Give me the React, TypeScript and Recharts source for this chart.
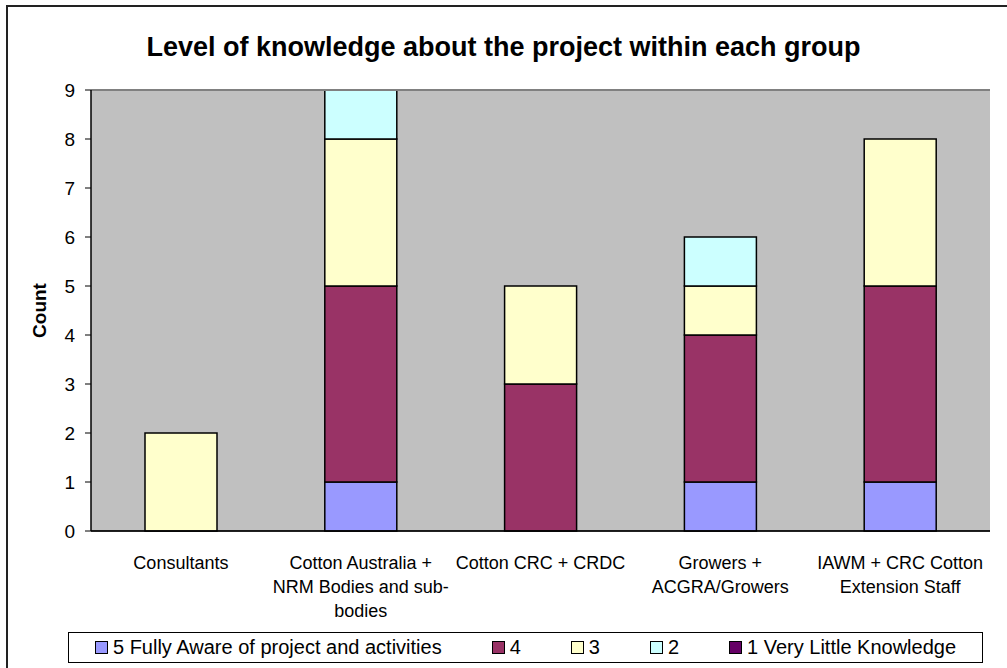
import { BarChart, Bar, XAxis, YAxis, CartesianGrid, Legend, ReferenceLine } from 'recharts'

const categories = [
  'Consultants',
  'Cotton Australia + NRM Bodies and sub-bodies',
  'Cotton CRC + CRDC',
  'Growers + ACGRA/Growers',
  'IAWM + CRC Cotton Extension Staff',
]
const tickLines = [
  ['Consultants'],
  ['Cotton Australia +', 'NRM Bodies and sub-', 'bodies'],
  ['Cotton CRC + CRDC'],
  ['Growers +', 'ACGRA/Growers'],
  ['IAWM + CRC Cotton', 'Extension Staff'],
]
const seriesNames = ['5 Fully Aware of project and activities', '4', '3', '2', '1 Very Little Knowledge']
const level5 = [0, 1, 0, 1, 1]
const level4 = [0, 4, 3, 3, 4]
const level3 = [2, 3, 2, 1, 3]
const level2 = [0, 1, 0, 1, 0]
const level1 = [0, 0, 0, 0, 0]
const yTicks = [0, 1, 2, 3, 4, 5, 6, 7, 8, 9]

const colors = ['#9999FF', '#993366', '#FFFFCC', '#CCFFFF', '#660066']
const font = 'Arial, "Liberation Sans", sans-serif'

const data = categories.map((name, i) => ({
  name,
  l5: level5[i],
  l4: level4[i],
  l3: level3[i],
  l2: level2[i],
  l1: level1[i],
}))
const keys = ['l5', 'l4', 'l3', 'l2', 'l1']

function CategoryTick(props: any) {
  const { x, y, payload } = props
  const lines = tickLines[payload.index] || [payload.value]
  return (
    <g transform={`translate(${x},${y})`}>
      {lines.map((line, i) => (
        <text
          key={i}
          x={0}
          y={30 + i * 24}
          textAnchor="middle"
          fill="#000"
          fontSize={18}
          fontFamily={font}
        >
          {line}
        </text>
      ))}
    </g>
  )
}

function LegendBox(props: any) {
  const items = [...(props.payload || [])].sort(
    (a: any, b: any) => seriesNames.indexOf(a.value) - seriesNames.indexOf(b.value),
  )
  return (
    <div
      style={{
        border: '1px solid #000',
        background: '#fff',
        height: 31,
        display: 'flex',
        alignItems: 'center',
        justifyContent: 'center',
        gap: 50,
        fontFamily: font,
        fontSize: 20,
        color: '#000',
        boxSizing: 'border-box',
      }}
    >
      {items.map((it: any) => (
        <div key={it.value} style={{ display: 'flex', alignItems: 'center', gap: 5 }}>
          <span
            style={{
              width: 11,
              height: 11,
              border: '1px solid #000',
              background: it.color,
              display: 'inline-block',
            }}
          />
          <span>{it.value}</span>
        </div>
      ))}
    </div>
  )
}

export default function App() {
  return (
    <div style={{ position: 'absolute', left: 0, top: 0, width: 1007, height: 668, background: '#fff' }}>
      <div
        style={{
          position: 'absolute',
          left: 6,
          top: 5,
          width: 1010,
          height: 670,
          borderTop: '2px solid #222',
          borderLeft: '2px solid #222',
        }}
      />
      <div
        style={{
          position: 'absolute',
          left: 0,
          top: 32,
          width: 1007,
          textAlign: 'center',
          fontFamily: font,
          fontWeight: 'bold',
          fontSize: 27,
          color: '#000',
        }}
      >
        Level of knowledge about the project within each group
      </div>
      <div style={{ position: 'absolute', left: 0, top: 0 }}>
        <BarChart
          width={1007}
          height={668}
          data={data}
          margin={{ top: 90, right: 17, left: 31, bottom: 37 }}
          barSize={72}
        >
          <CartesianGrid vertical={false} stroke="#000" fill="#C0C0C0" />
          <XAxis
            dataKey="name"
            height={100}
            interval={0}
            tickLine={false}
            axisLine={{ stroke: '#000', strokeWidth: 1.5 }}
            tick={<CategoryTick />}
          />
          <YAxis
            yAxisId="l"
            width={60}
            domain={[0, 9]}
            ticks={yTicks}
            interval={0}
            tickSize={6}
            tickMargin={10}
            axisLine={{ stroke: '#000', strokeWidth: 1.5 }}
            tickLine={{ stroke: '#000' }}
            tick={{ fill: '#000', fontSize: 19, fontFamily: font }}
            label={(p: any) => {
              const vb = p.viewBox
              const cx = vb.x + 8
              const cy = vb.y + vb.height / 2
              return (
                <text
                  x={cx}
                  y={cy}
                  transform={`rotate(-90, ${cx}, ${cy})`}
                  textAnchor="middle"
                  dominantBaseline="central"
                  fontSize={19}
                  fontWeight="bold"
                  fontFamily={font}
                  fill="#000"
                >
                  Count
                </text>
              )
            }}
          />
          <YAxis
            yAxisId="r"
            orientation="right"
            width={0}
            domain={[0, 9]}
            ticks={yTicks}
            tick={false}
            tickLine={false}
            axisLine={{ stroke: '#808080', strokeWidth: 2 }}
          />
          <ReferenceLine yAxisId="l" y={9} stroke="#808080" strokeWidth={2} />
          {keys.map((k, i) => (
            <Bar
              key={k}
              yAxisId="l"
              dataKey={k}
              name={seriesNames[i]}
              stackId="a"
              fill={colors[i]}
              stroke="#000"
              strokeWidth={1.5}
              isAnimationActive={false}
            />
          ))}
          <Legend
            layout="horizontal"
            verticalAlign="middle"
            content={<LegendBox />}
            wrapperStyle={{ left: 68, top: 632, width: 915, height: 31 }}
          />
        </BarChart>
      </div>
    </div>
  )
}
